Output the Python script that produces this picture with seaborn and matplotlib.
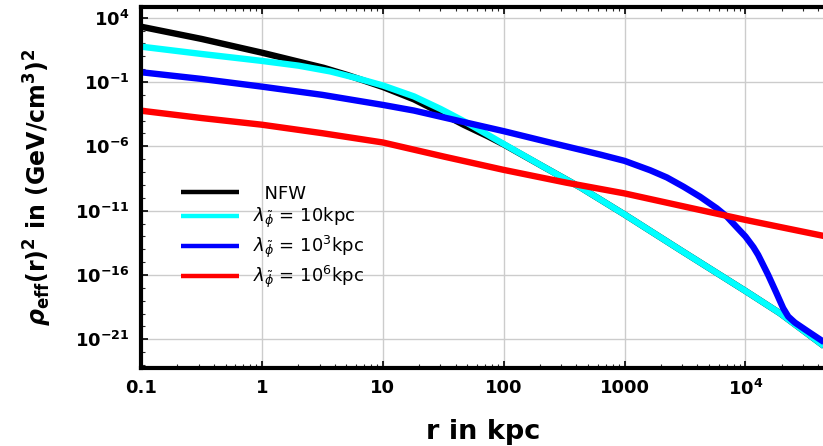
import matplotlib
matplotlib.use("Agg")
import matplotlib.pyplot as plt
import matplotlib.ticker as mticker
import seaborn as sns
import pandas as pd
import numpy as np

# values, as log10(r / kpc) and log10(rho_eff^2)
nfw_logr = [-1.0, -0.5, 0.0, 0.512, 0.705, 1.004, 1.258, 1.479, 1.672, 1.865, 2.0, 2.36, 2.64, 3.0,
            3.46, 4.008, 4.285, 4.655]
nfw_logy = [3.30, 2.35, 1.28, 0.10, -0.45, -1.40, -2.35, -3.40, -4.34, -5.20, -5.85, -7.75, -9.22, -11.30,
            -14.05, -17.29, -18.97, -21.56]

l10_logr = [-1.0, -0.5, 0.0, 0.304, 0.567, 0.788, 1.004, 1.258, 1.479, 1.672, 1.865, 2.0, 2.36, 2.64, 3.0,
            3.46, 4.008, 4.285, 4.655]
l10_logy = [1.75, 1.18, 0.64, 0.27, -0.18, -0.71, -1.28, -2.12, -3.10, -4.05, -5.08, -5.82, -7.75, -9.22, -11.30,
            -14.05, -17.29, -18.97, -21.56]

l1e3_logr = [-1.0, -0.5, 0.0, 0.5, 1.0, 1.258, 1.535, 2.0, 2.36, 2.64, 2.806, 3.0, 3.212, 3.35, 3.488, 3.625,
             3.763, 3.846, 3.928, 4.0, 4.066, 4.105, 4.188, 4.257, 4.312, 4.354, 4.409, 4.519, 4.655]
l1e3_logy = [-0.24, -0.76, -1.36, -2.0, -2.78, -3.22, -3.82, -4.82, -5.65, -6.28, -6.66, -7.13, -7.86, -8.42, -9.14, -9.92,
             -10.82, -11.46, -12.29, -13.01, -13.84, -14.44, -16.0, -17.42, -18.58, -19.23, -19.70, -20.40, -21.25]

l1e6_logr = [-1.0, -0.5, 0.0, 0.5, 1.0, 1.507, 2.0, 2.516, 3.0, 3.552, 4.0, 4.655]
l1e6_logy = [-3.23, -3.80, -4.32, -4.98, -5.70, -6.80, -7.83, -8.82, -9.66, -10.80, -11.72, -12.98]

series = ["  NFW",
          r"$\lambda_{\tilde{\phi}}$ = 10kpc",
          r"$\lambda_{\tilde{\phi}}$ = 10$^3$kpc",
          r"$\lambda_{\tilde{\phi}}$ = 10$^6$kpc"]
colors = ["#000000", "#00FFFF", "#0000FF", "#FF0000"]

x_ticks = [0.1, 1, 10, 100, 1000, 1e4]
x_ticklabels = ["0.1", "1", "10", "100", "1000", r"$\mathdefault{10^4}$"]
y_ticks = [1e4, 1e-1, 1e-6, 1e-11, 1e-16, 1e-21]
y_ticklabels = [r"$\mathdefault{10^{4}}$", r"$\mathdefault{10^{-1}}$", r"$\mathdefault{10^{-6}}$",
                r"$\mathdefault{10^{-11}}$", r"$\mathdefault{10^{-16}}$", r"$\mathdefault{10^{-21}}$"]

frames = []
for name, lr, ly in zip(series,
                        [nfw_logr, l10_logr, l1e3_logr, l1e6_logr],
                        [nfw_logy, l10_logy, l1e3_logy, l1e6_logy]):
    frames.append(pd.DataFrame({"r": 10.0 ** np.array(lr),
                                "rho2": 10.0 ** np.array(ly),
                                "model": name}))
df = pd.concat(frames, ignore_index=True)

sns.set_theme(style="white")
plt.rcParams["font.family"] = ["DejaVu Sans"]
plt.rcParams["mathtext.fontset"] = "dejavusans"
plt.rcParams["text.color"] = "black"
plt.rcParams["axes.labelcolor"] = "black"

fig = plt.figure(figsize=(8.23, 4.46), dpi=100)
ax = fig.add_axes([141 / 823, 1 - 368 / 446, 1 - 141 / 823 + 0.002, (368 - 7) / 446])
ax.set_xscale("log")
ax.set_yscale("log")

sns.lineplot(data=df, x="r", y="rho2", hue="model", hue_order=series,
             palette=colors, estimator=None, sort=False, linewidth=4.6, ax=ax)
for ln in ax.get_lines():
    ln.set_solid_joinstyle("round")
    ln.set_solid_capstyle("butt")

ax.set_xlim(0.1, 10 ** 4.655)
ax.set_ylim(10 ** -23.23, 10 ** 4.83)

ax.xaxis.set_major_locator(mticker.FixedLocator(x_ticks))
ax.xaxis.set_major_formatter(mticker.FixedFormatter(x_ticklabels))
ax.xaxis.set_minor_locator(mticker.LogLocator(base=10, subs=np.arange(2, 10), numticks=50))
ax.xaxis.set_minor_formatter(mticker.NullFormatter())
ax.yaxis.set_major_locator(mticker.FixedLocator(y_ticks))
ax.yaxis.set_major_formatter(mticker.FixedFormatter(y_ticklabels))
ax.yaxis.set_minor_locator(mticker.LogLocator(base=10, subs=[1.0], numticks=60))
ax.yaxis.set_minor_formatter(mticker.NullFormatter())

ax.tick_params(axis="both", which="major", direction="in", length=5, width=1.2,
               labelsize=13, pad=8, colors="black", top=True, left=True, bottom=True, right=False)
ax.tick_params(axis="both", which="minor", direction="in", length=3, width=0.8,
               top=True, left=True, bottom=True, right=False)
for lab in ax.get_xticklabels() + ax.get_yticklabels():
    lab.set_fontweight("bold")

ax.grid(True, which="major", color="#cccccc", linewidth=1.0)
for side in ["left", "bottom", "top"]:
    ax.spines[side].set_linewidth(3.0)
    ax.spines[side].set_color("black")
ax.spines["right"].set_visible(False)

ax.set_xlabel("r in kpc", fontsize=19.5, fontweight="bold", labelpad=14)
ax.set_ylabel(r"$\mathbfit{\rho}_{\mathbf{eff}}\mathdefault{(r)^2}$ in (GeV/cm$\mathdefault{^3}$)$\mathdefault{^2}$",
              fontsize=17, fontweight="bold", labelpad=15)

leg = ax.legend(loc="center left", bbox_to_anchor=((181 - 141) / 682, (368 - 237.5) / 361),
                frameon=False, fontsize=13, handlelength=3.2, handletextpad=0.8,
                labelspacing=0.2, borderpad=0, borderaxespad=0)
for h in leg.get_lines():
    h.set_linewidth(3.2)

fig.savefig("out.png", dpi=100)
